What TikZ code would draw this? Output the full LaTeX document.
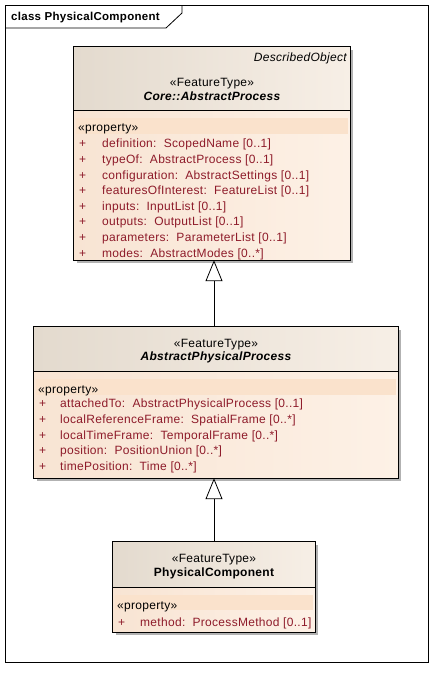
\documentclass[tikz,border=0pt]{standalone}
\usepackage{fontspec}
\setmainfont[LetterSpace=2.5]{Liberation Sans}
\usetikzlibrary{arrows.meta,shadows,calc}
\definecolor{attr}{HTML}{8E1B2A}
\definecolor{headL}{HTML}{E3DACE}
\definecolor{headR}{HTML}{F7EFE6}
\definecolor{bodyL}{HTML}{F8E4D3}
\definecolor{bodyR}{HTML}{FDF1E6}
\definecolor{band}{HTML}{FAE2CC}
\tikzset{
  classbox/.style={rectangle, fill=white, inner sep=0pt,
    drop shadow={shadow xshift=3pt, shadow yshift=-3pt, fill=black, opacity=0.3}},
  stereo/.style={anchor=base, inner sep=0pt},
  cname/.style={anchor=base, inner sep=0pt, font=\fontsize{12}{14}\selectfont\bfseries},
  plus/.style={anchor=base west, inner sep=0pt, text=attr},
  attrtext/.style={anchor=base west, inner sep=0pt, text=attr},
  proptag/.style={anchor=base west, inner sep=0pt},
  general/.style={-{Triangle[length=21pt, width=17pt, fill=white]}, line width=0.8pt},
}
% header/body fills of a class box: #1 node, #2 divider y, #3 band top, #4 band bottom
\newcommand{\classfill}[4]{%
  \shade[left color=headL, right color=headR] (#1.north west) rectangle (#1.east |- 0,#2);
  \shade[left color=bodyL, right color=bodyR] (#1.west |- 0,#2) rectangle (#1.south east);
  \fill[band] ($(#1.west |- 0,#3)+(2,0)$) rectangle ($(#1.east |- 0,#4)+(-2,0)$);
  \draw[line width=0.8pt] (#1.west |- 0,#2) -- (#1.east |- 0,#2);
  \draw[line width=0.8pt] (#1.north west) rectangle (#1.south east);
}
\begin{document}
\begin{tikzpicture}[x=1pt, y=-1pt, font=\fontsize{12}{14}\selectfont]
\useasboundingbox[fill=white] (0,0) rectangle (437,673);

% diagram frame with its name tab
\draw[line width=0.8pt] (5,5) rectangle (428,662);
\draw[line width=0.8pt] (5,28) -- (166,28) -- (182,13) -- (182,5);
\node[anchor=base west, inner sep=0pt, font=\fontsize{11.5}{13}\selectfont\bfseries] (frametitle) at (11,20.5) {class PhysicalComponent};

% Core::AbstractProcess
\node[classbox, minimum width=276pt, minimum height=213pt] (c1) at (212,153.5) {};
\classfill{c1}{110}{118}{134}
\node[anchor=base east, inner sep=0pt, font=\fontsize{12}{14}\selectfont\itshape] (c1tag) at (347,61.5) {DescribedObject};
\node[stereo] (c1st) at (212,86.5) {«FeatureType»};
\node[cname, font=\fontsize{12}{14}\selectfont\bfseries\itshape] (c1name) at (212,100) {Core::AbstractProcess};
\node[proptag] (c1prop) at (78,131) {«property»};
\foreach \t [count=\i] in {
  {definition:\ \ ScopedName [0..1]},
  {typeOf:\ \ AbstractProcess [0..1]},
  {configuration:\ \ AbstractSettings [0..1]},
  {featuresOfInterest:\ \ FeatureList [0..1]},
  {inputs:\ \ InputList [0..1]},
  {outputs:\ \ OutputList [0..1]},
  {parameters:\ \ ParameterList [0..1]},
  {modes:\ \ AbstractModes [0..*]}} {
  \node[plus] (c1p\i) at (79,{143.3+15.6*(\i-1)+4.5}) {+};
  \node[attrtext] (c1a\i) at (102,{143.3+15.6*(\i-1)+4.5}) {\t};
}

% AbstractPhysicalProcess
\node[classbox, minimum width=364pt, minimum height=151pt] (c2) at (216,402.5) {};
\classfill{c2}{371}{379}{395}
\node[stereo] (c2st) at (216,347.5) {«FeatureType»};
\node[cname, font=\fontsize{12}{14}\selectfont\bfseries\itshape] (c2name) at (216,360) {AbstractPhysicalProcess};
\node[proptag] (c2prop) at (38,393.5) {«property»};
\foreach \t [count=\i] in {
  {attachedTo:\ \ AbstractPhysicalProcess [0..1]},
  {localReferenceFrame:\ \ SpatialFrame [0..*]},
  {localTimeFrame:\ \ TemporalFrame [0..*]},
  {position:\ \ PositionUnion [0..*]},
  {timePosition:\ \ Time [0..*]}} {
  \node[plus] (c2p\i) at (39,{403.3+15.6*(\i-1)+4.5}) {+};
  \node[attrtext] (c2a\i) at (60,{403.3+15.6*(\i-1)+4.5}) {\t};
}

% PhysicalComponent
\node[classbox, minimum width=202pt, minimum height=90pt] (c3) at (214,587) {};
\classfill{c3}{587}{595}{610}
\node[stereo] (c3st) at (214,562.5) {«FeatureType»};
\node[cname] (c3name) at (214,576.5) {PhysicalComponent};
\node[proptag] (c3prop) at (117,609) {«property»};
\node[plus] (c3p1) at (118,626.5) {+};
\node[attrtext] (c3a1) at (140,626.5) {method:\ \ ProcessMethod [0..1]};

% generalisations
\draw[general] (c3.north |- c2.north) -- (c3.north |- c1.south);
\draw[general] (c3.north) -- (c3.north |- c2.south);
\end{tikzpicture}
\end{document}
